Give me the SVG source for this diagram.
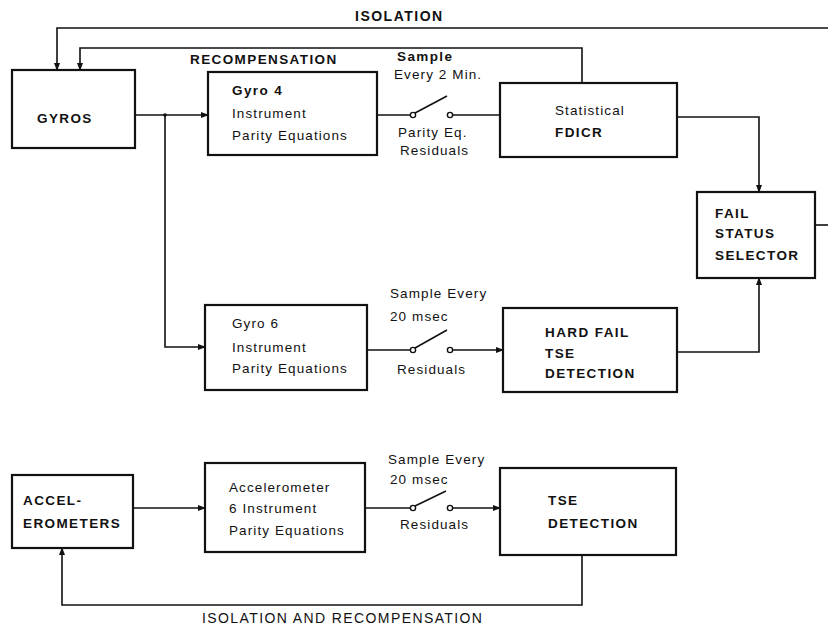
<svg xmlns="http://www.w3.org/2000/svg" width="828" height="628" viewBox="0 0 828 628">
<defs>
<marker id="ah" markerWidth="8" markerHeight="8" refX="7" refY="4" orient="auto" markerUnits="userSpaceOnUse">
<path d="M0,1 L8,4 L0,7 Z" fill="#111"/>
</marker>
<style>
.box{fill:#fff;stroke:#111;stroke-width:2.2}
.ln{fill:none;stroke:#111;stroke-width:1.6}
.t{font-family:"Liberation Sans",Arial,sans-serif;font-size:13.5px;fill:#111;letter-spacing:1.1px}
.b{font-family:"Liberation Sans",Arial,sans-serif;font-size:13.5px;font-weight:bold;fill:#111;letter-spacing:1.4px}
.big{font-family:"Liberation Sans",Arial,sans-serif;font-size:14px;fill:#111;letter-spacing:1.4px}
.c{fill:#fff;stroke:#111;stroke-width:1.4}
</style>
</defs>
<rect width="828" height="628" fill="#fff"/>

<g id="connectors">
<path class="ln" d="M828,28 L57,28 L57,70" marker-end="url(#ah)"/>
<path class="ln" d="M582,83 L582,48 L80,48 L80,70" marker-end="url(#ah)"/>
<path class="ln" d="M136,115 L208,115" marker-end="url(#ah)"/>
<circle cx="165" cy="115" r="1.8" fill="#111"/>
<path class="ln" d="M165,115 L165,347 L205,347" marker-end="url(#ah)"/>
<path class="ln" d="M377,115 L410,115"/>
<circle class="c" cx="413" cy="115" r="2.6"/>
<path class="ln" d="M415,113 L447,96"/>
<circle class="c" cx="450" cy="115" r="2.6"/>
<path class="ln" d="M453,115 L500,115"/>
<path class="ln" d="M677,117 L759,117 L759,192" marker-end="url(#ah)"/>
<path class="ln" d="M815,225 L828,225"/>
<path class="ln" d="M367,350 L410,350"/>
<circle class="c" cx="413" cy="350" r="2.6"/>
<path class="ln" d="M415,348 L447,330"/>
<circle class="c" cx="450" cy="350" r="2.6"/>
<path class="ln" d="M453,350 L503,350" marker-end="url(#ah)"/>
<path class="ln" d="M677,352 L759,352 L759,278" marker-end="url(#ah)"/>
<path class="ln" d="M133,508 L205,508" marker-end="url(#ah)"/>
<path class="ln" d="M365,508 L410,508"/>
<circle class="c" cx="413" cy="508" r="2.6"/>
<path class="ln" d="M415,506 L446,491"/>
<circle class="c" cx="450" cy="508" r="2.6"/>
<path class="ln" d="M453,508 L500,508" marker-end="url(#ah)"/>
<path class="ln" d="M582,555 L582,605 L62,605 L62,548" marker-end="url(#ah)"/>
</g>

<g id="labels">
<text class="b" x="355" y="21" style="font-size:14px;letter-spacing:1.5px">ISOLATION</text>
<text class="b" x="190" y="64">RECOMPENSATION</text>
<text class="b" x="397" y="61">Sample</text>
<text class="t" x="394" y="79">Every 2 Min.</text>
<text class="t" x="398" y="137">Parity Eq.</text>
<text class="t" x="400" y="155">Residuals</text>
<text class="t" x="390" y="298">Sample Every</text>
<text class="t" x="390" y="321">20 msec</text>
<text class="t" x="397" y="374">Residuals</text>
<text class="t" x="388" y="464">Sample Every</text>
<text class="t" x="390" y="484">20 msec</text>
<text class="t" x="400" y="529">Residuals</text>
<text class="big" x="202" y="623">ISOLATION AND RECOMPENSATION</text>
</g>

<g id="gyros">
<rect class="box" x="12" y="70" width="123" height="78"/>
<text class="b" x="37" y="123">GYROS</text>
</g>
<g id="gyro4">
<rect class="box" x="208" y="72" width="169" height="83"/>
<text class="b" x="232" y="95">Gyro 4</text>
<text class="t" x="232" y="118">Instrument</text>
<text class="t" x="232" y="140">Parity Equations</text>
</g>
<g id="statistical">
<rect class="box" x="500" y="83" width="177" height="74"/>
<text class="t" x="555" y="115">Statistical</text>
<text class="b" x="555" y="137">FDICR</text>
</g>
<g id="failstatus">
<rect class="box" x="697" y="192" width="118" height="86"/>
<text class="b" x="715" y="218">FAIL</text>
<text class="b" x="715" y="238">STATUS</text>
<text class="b" x="715" y="260">SELECTOR</text>
</g>
<g id="gyro6">
<rect class="box" x="205" y="305" width="162" height="85"/>
<text class="t" x="232" y="328">Gyro 6</text>
<text class="t" x="232" y="352">Instrument</text>
<text class="t" x="232" y="373">Parity Equations</text>
</g>
<g id="hardfail">
<rect class="box" x="503" y="308" width="174" height="84"/>
<text class="b" x="545" y="337">HARD FAIL</text>
<text class="b" x="545" y="358">TSE</text>
<text class="b" x="545" y="378">DETECTION</text>
</g>
<g id="accel">
<rect class="box" x="12" y="475" width="121" height="73"/>
<text class="b" x="23" y="505">ACCEL-</text>
<text class="b" x="23" y="528">EROMETERS</text>
</g>
<g id="accelparity">
<rect class="box" x="205" y="463" width="160" height="89"/>
<text class="t" x="229" y="492">Accelerometer</text>
<text class="t" x="229" y="513">6 Instrument</text>
<text class="t" x="229" y="535">Parity Equations</text>
</g>
<g id="tse">
<rect class="box" x="500" y="468" width="176" height="87"/>
<text class="b" x="548" y="505">TSE</text>
<text class="b" x="548" y="528">DETECTION</text>
</g>
</svg>
